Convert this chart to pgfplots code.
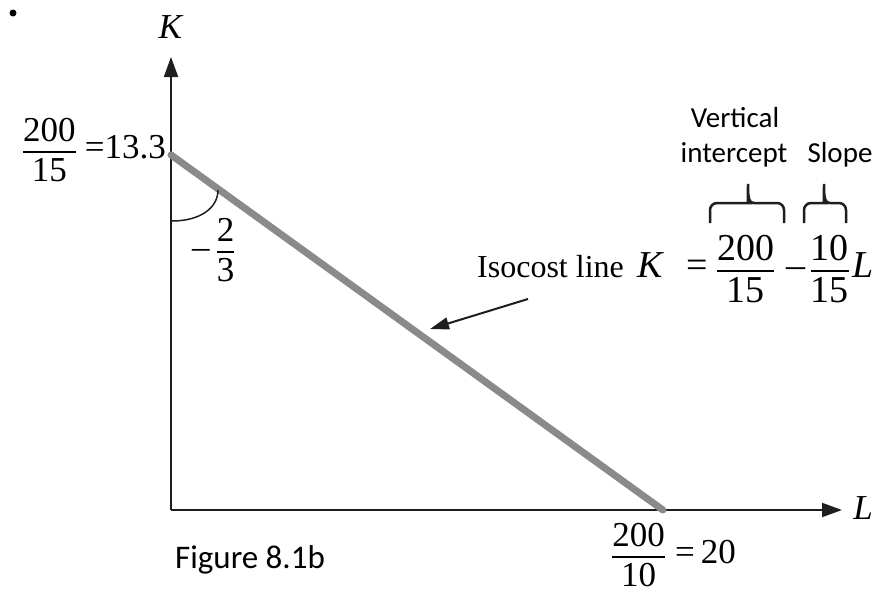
\documentclass[border=0pt]{standalone}
\usepackage{amsmath}
\usepackage{pgfplots}
\pgfplotsset{compat=1.18}
\usepackage{fontspec}
\setmainfont{Liberation Serif}
\newfontfamily\calibri{Carlito}
\usetikzlibrary{arrows.meta}

\definecolor{isogray}{RGB}{138,138,138}
\definecolor{axisblack}{RGB}{30,30,30}

\newcommand{\lbl}{\fontsize{35}{42}\selectfont}
\newcommand{\numfrac}[2]{$\genfrac{}{}{1.8pt}{0}{\mbox{#1}}{\mbox{#2}}$}
% upward brace: left leg, cusp, right leg
\newcommand{\topbrace}[3]{%
  \draw[line width=2.5pt, draw=axisblack]
    (#1,223) [rounded corners=7pt] -- (#1,203) -- ({#2-6},203) [sharp corners]
    .. controls ({#2-1},203) and (#2,199) .. (#2,184)
    .. controls (#2,199) and ({#2+1},203) .. ({#2+6},203)
    [rounded corners=7pt] -- (#3,203) -- (#3,223);}

\begin{document}
\begin{tikzpicture}
\useasboundingbox (0pt,0pt) rectangle (877pt,-592pt);

\begin{axis}[
  at={(171pt,-510pt)}, anchor=south west,
  scale only axis, width=671pt, height=453pt,
  xmin=0, xmax=27.28, ymin=0, ymax=17.01,
  enlargelimits=false,
  axis lines=left,
  axis line style={line width=2pt, draw=axisblack,
    -{Triangle[length=20pt,width=14pt]}},
  xtick=\empty, ytick=\empty,
  clip=false,
]
% isocost line: K = 200/15 - (10/15) L
\addplot[isogray, line width=7pt, line cap=round] coordinates {(0,13.333) (20,0)};
\end{axis}

\begin{scope}[x=1pt, y=-1pt]
  \fill[black] (13,13) circle[radius=3.5pt];

  % axis names
  \node[font=\lbl] at (171,27) {\textit{K}};
  \node[font=\lbl] at (863,508) {\textit{L}};

  % intercepts
  \node[font=\lbl, anchor=base east, inner sep=0pt] at (166,158)
    {\numfrac{200}{15}\hspace{8pt}=13.3};
  \node[font=\lbl, anchor=base west, inner sep=0pt] at (611,563)
    {\numfrac{200}{10}\hspace{9pt}=\hspace{6pt}20};

  % slope angle
  \draw[line width=1.5pt, draw=axisblack]
    (172,221) .. controls (200,221) and (218,208) .. (218,190);
  \node[font=\lbl, anchor=base west, inner sep=0pt] at (192,258)
    {\textendash\hspace{6pt}\numfrac{2}{3}};

  % equation of the isocost line
  \node[anchor=base west, inner sep=0pt] at (477,277)
    {{\fontsize{32}{38}\selectfont Isocost line}\hspace{14pt}%
     {\fontsize{38}{46}\selectfont \textit{K}\hspace{22pt}=\hspace{8pt}%
      \numfrac{200}{15}\hspace{11pt}\textendash\hspace{4pt}%
      \numfrac{10}{15}\hspace{2pt}\textit{L}}};
  \draw[line width=2pt, draw=axisblack, -{Triangle[length=19pt,width=12pt]}]
    (528,299) -- (430,329);

  \topbrace{710}{748}{784}
  \topbrace{804}{824}{846}
  \node[font=\calibri\fontsize{29}{34}\selectfont, anchor=base] at (735,127) {Vertical};
  \node[font=\calibri\fontsize{29}{34}\selectfont, anchor=base] at (734,162) {intercept};
  \node[font=\calibri\fontsize{29}{34}\selectfont, anchor=base] at (840,162) {Slope};

  \node[font=\calibri\fontsize{33}{39}\selectfont, anchor=base west, inner sep=0pt]
    at (175,568) {Figure 8.1b};
\end{scope}
\end{tikzpicture}
\end{document}
